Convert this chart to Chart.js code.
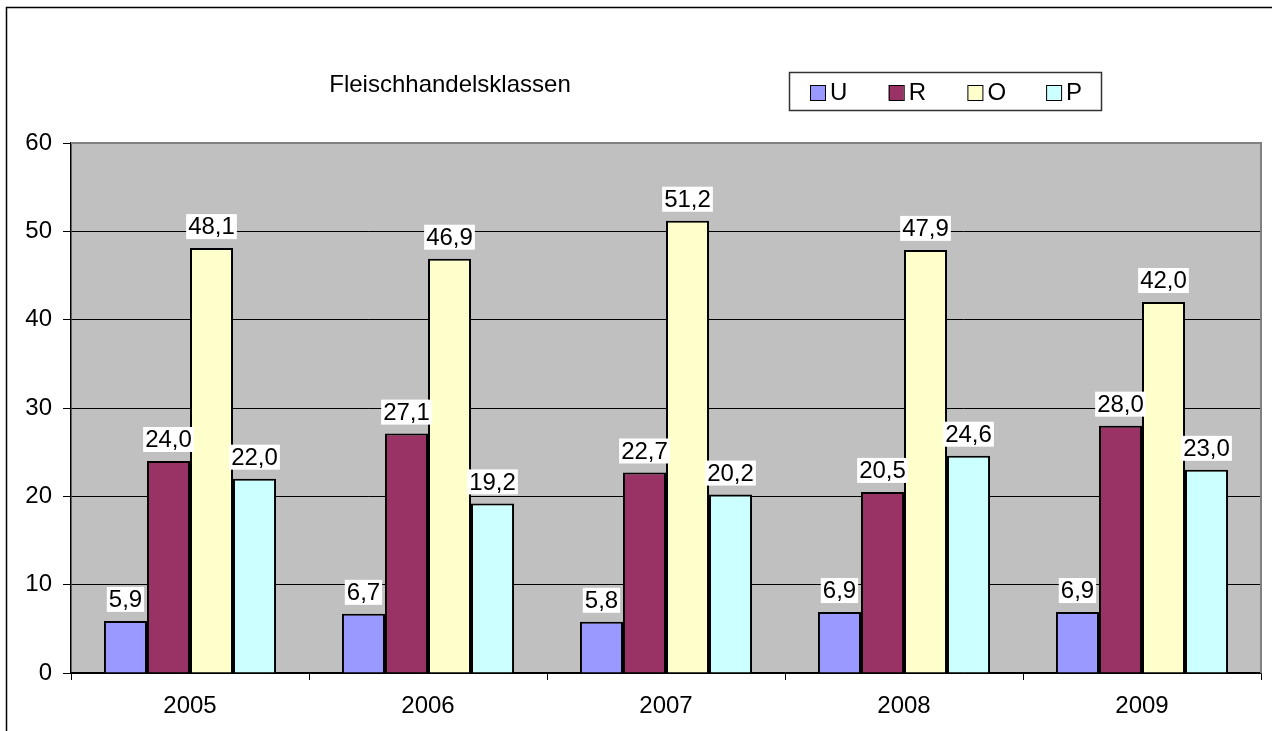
<!DOCTYPE html>
<html>
<head>
<meta charset="utf-8">
<script src="https://cdn.jsdelivr.net/npm/chart.js@4/dist/chart.umd.min.js"></script>
<style>
  html, body { margin:0; padding:0; background:#fff; }
  #wrap { width:1272px; height:731px; }
</style>
</head>
<body>
<div id="wrap"><canvas id="c" width="1272" height="731"></canvas></div>
<script>
// Daten
const jahre = ['2005', '2006', '2007', '2008', '2009'];
const klasseU = [5.9, 6.7, 5.8, 6.9, 6.9];
const klasseR = [24.0, 27.1, 22.7, 20.5, 28.0];
const klasseO = [48.1, 46.9, 51.2, 47.9, 42.0];
const klasseP = [22.0, 19.2, 20.2, 24.6, 23.0];
const serien  = ['U', 'R', 'O', 'P'];
const farben  = ['#9999FF', '#993366', '#FFFFCC', '#CCFFFF'];
const titel   = 'Fleischhandelsklassen';

const FONT = '"Liberation Sans", Arial, sans-serif';
const fmt = (n) => n.toFixed(1).replace('.', ',');

// Hintergrund, Rahmen, Titel, Legende
const rahmen = {
  id: 'rahmen',
  beforeDraw(chart){
    const { ctx, chartArea:a } = chart;
    ctx.save();
    ctx.fillStyle = '#fff';
    ctx.fillRect(0, 0, chart.width, chart.height);
    ctx.fillStyle = '#C0C0C0';
    ctx.fillRect(a.left, a.top, a.right - a.left, a.bottom - a.top);
    ctx.restore();
  },
  afterDraw(chart){
    const { ctx, chartArea:a } = chart;
    ctx.save();
    // äußerer Rahmen
    ctx.strokeStyle = '#000';
    ctx.lineWidth = 1.5;
    ctx.beginPath();
    ctx.moveTo(6.5, chart.height + 2);
    ctx.lineTo(6.5, 7.5);
    ctx.lineTo(chart.width + 2, 7.5);
    ctx.stroke();
    // Plotbereich oben/rechts grau
    ctx.strokeStyle = '#808080';
    ctx.lineWidth = 2;
    ctx.beginPath();
    ctx.moveTo(a.left, a.top);
    ctx.lineTo(a.right, a.top);
    ctx.lineTo(a.right, a.bottom);
    ctx.stroke();
    // Titel
    ctx.fillStyle = '#000';
    ctx.font = '24px ' + FONT;
    ctx.textAlign = 'center';
    ctx.textBaseline = 'middle';
    ctx.fillText(titel, 450, 85);
    // Legende
    ctx.strokeStyle = '#333';
    ctx.lineWidth = 1.5;
    ctx.strokeRect(789.5, 72.5, 312, 38);
    ctx.font = '24px ' + FONT;
    ctx.textAlign = 'left';
    serien.forEach((s, i) => {
      const x = 810 + i * 78.7;
      ctx.fillStyle = farben[i];
      ctx.fillRect(x, 85, 15, 15);
      ctx.strokeStyle = '#000';
      ctx.lineWidth = 1;
      ctx.strokeRect(x + 0.5, 85.5, 15, 15);
      ctx.fillStyle = '#000';
      ctx.fillText(s, x + 20, 93);
    });
    ctx.restore();
  }
};

// Wertebeschriftung mit weißem Kasten
const werte = {
  id: 'werte',
  afterDatasetsDraw(chart){
    const { ctx } = chart;
    ctx.save();
    ctx.font = '24px ' + FONT;
    ctx.textAlign = 'center';
    ctx.textBaseline = 'middle';
    chart.data.datasets.forEach((ds, di) => {
      chart.getDatasetMeta(di).data.forEach((bar, i) => {
        const t = fmt(ds.data[i]);
        const w = ctx.measureText(t).width + 4;
        const h = 25;
        const yb = bar.y - 9;
        ctx.fillStyle = '#fff';
        ctx.fillRect(bar.x - w / 2, yb - h, w, h);
        ctx.fillStyle = '#000';
        ctx.fillText(t, bar.x, yb - h / 2 + 1);
      });
    });
    ctx.restore();
  }
};

new Chart(document.getElementById('c'), {
  type: 'bar',
  data: {
    labels: jahre,
    datasets: [klasseU, klasseR, klasseO, klasseP].map((d, i) => ({
      label: serien[i],
      data: d,
      backgroundColor: farben[i],
      borderColor: '#000',
      borderWidth: 2,
      barPercentage: 1,
      categoryPercentage: 0.723
    }))
  },
  options: {
    responsive: false,
    animation: false,
    events: [],
    layout: { padding: { left: 0, top: 143, right: 11, bottom: 0 } },
    plugins: { legend: { display: false }, title: { display: false }, tooltip: { enabled: false } },
    scales: {
      x: {
        offset: true,
        grid: { offset: true, drawOnChartArea: false, drawTicks: true, tickLength: 7, color: '#000' },
        border: { color: '#000', width: 1.5 },
        ticks: { color: '#000', font: { family: FONT, size: 24 }, padding: 12 },
        afterFit(s){ s.height = 58; }
      },
      y: {
        min: 0, max: 60,
        grid: { color: '#000', lineWidth: 1, tickLength: 8 },
        border: { color: '#000', width: 1.5 },
        ticks: { stepSize: 10, color: '#000', font: { family: FONT, size: 24 }, padding: 11 },
        afterFit(s){ s.width = 71; }
      }
    }
  },
  plugins: [rahmen, werte]
});
</script>
</body>
</html>
